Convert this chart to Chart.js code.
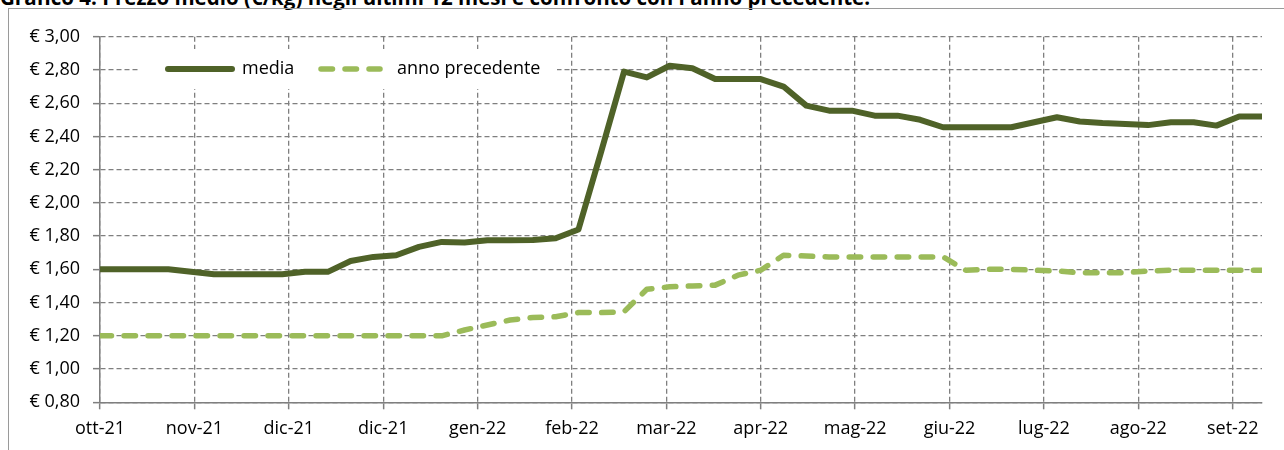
<!DOCTYPE html>
<html>
<head>
<meta charset="utf-8">
<script src="https://cdn.jsdelivr.net/npm/chart.js@4.4.1/dist/chart.umd.min.js"></script>
<style>
  html, body { margin: 0; padding: 0; background: #fff; }
  #wrap { position: relative; width: 1284px; height: 450px; overflow: hidden; }
  #title { position: absolute; left: 0; top: -12.8px; font-family: "Open Sans", sans-serif; font-weight: 700; font-size: 20.5px; line-height: 20px; white-space: nowrap; color: #000; }
  #box { position: absolute; left: 8px; top: 8px; width: 1400px; height: 600px; border: 1px solid #9a9a9a; box-sizing: border-box; }
  #c { position: absolute; left: 0; top: 0; }
</style>
</head>
<body>
<div id="wrap">
  <div id="title">Grafico 4. Prezzo medio  (€/kg) negli ultimi 12 mesi e confronto con l'anno precedente.</div>
  <div id="box"></div>
  <canvas id="c" width="1284" height="450"></canvas>
</div>
<script>
// ---- data (weekly observations) ----
const weekDates = [
  '2021-10-04','2021-10-11','2021-10-18','2021-10-25','2021-11-01','2021-11-08','2021-11-15','2021-11-22',
  '2021-11-29','2021-12-06','2021-12-13','2021-12-20','2021-12-27','2022-01-03','2022-01-10','2022-01-17',
  '2022-01-24','2022-01-31','2022-02-07','2022-02-14','2022-02-21','2022-02-28','2022-03-07','2022-03-14',
  '2022-03-21','2022-03-28','2022-04-04','2022-04-11','2022-04-18','2022-04-25','2022-05-02','2022-05-09',
  '2022-05-16','2022-05-23','2022-05-30','2022-06-06','2022-06-13','2022-06-20','2022-06-27','2022-07-04',
  '2022-07-11','2022-07-18','2022-07-25','2022-08-01','2022-08-08','2022-08-15','2022-08-22','2022-08-29',
  '2022-09-05','2022-09-12','2022-09-19','2022-09-26'
];
const media = [
  1.60,1.60,1.60,1.60,1.585,1.57,1.57,1.57,1.57,1.585,1.585,1.65,1.675,1.685,1.735,1.765,
  1.762,1.775,1.775,1.777,1.787,1.84,2.31,2.79,2.755,2.825,2.81,2.745,2.745,2.745,2.70,2.585,
  2.555,2.555,2.525,2.525,2.50,2.455,2.455,2.455,2.455,2.485,2.515,2.49,2.48,2.475,2.468,2.485,
  2.485,2.465,2.52,2.52
];
const annoPrecedente = [
  1.20,1.20,1.20,1.20,1.20,1.20,1.20,1.20,1.20,1.20,1.20,1.20,1.20,1.20,1.20,1.20,
  1.235,1.265,1.295,1.31,1.315,1.34,1.34,1.345,1.48,1.495,1.50,1.505,1.565,1.595,1.685,1.68,
  1.675,1.675,1.675,1.675,1.675,1.675,1.595,1.60,1.60,1.595,1.59,1.58,1.58,1.58,1.59,1.595,
  1.595,1.595,1.595,1.595
];
const tickLabels = ['ott-21','nov-21','dic-21','dic-21','gen-22','feb-22','mar-22','apr-22','mag-22','giu-22','lug-22','ago-22','set-22'];
const seriesNames = ['media', 'anno precedente'];
const majorUnitDays = 29;

// ---- build ----
const DAY = 86400000;
const t0 = Date.parse(weekDates[0] + 'T00:00:00Z');
const dayOffsets = weekDates.map(d => Math.round((Date.parse(d + 'T00:00:00Z') - t0) / DAY));
const toPoints = vals => vals.map((v, i) => ({ x: dayOffsets[i], y: v }));

const C_MEDIA = '#4f6228';
const C_PREC = '#9bbb59';
const GRID = '#7f7f7f';
const FONT = { family: '"Open Sans", sans-serif', size: 18 };
const DASH = [11.5, 12.5];
const GRID_DASH = [5, 3];

const legendPlugin = {
  id: 'insideLegend',
  afterDatasetsDraw(chart) {
    const ctx = chart.ctx;
    ctx.save();
    ctx.fillStyle = '#fff';
    ctx.fillRect(138, 49, 419, 40);
    const y = 69;
    ctx.lineCap = 'round';
    ctx.lineWidth = 6;
    ctx.strokeStyle = C_MEDIA;
    ctx.setLineDash([]);
    ctx.beginPath(); ctx.moveTo(168, y); ctx.lineTo(232, y); ctx.stroke();
    ctx.strokeStyle = C_PREC;
    ctx.lineWidth = 5.5;
    ctx.setLineDash(DASH);
    ctx.beginPath(); ctx.moveTo(321, y); ctx.lineTo(380, y); ctx.stroke();
    ctx.setLineDash([]);
    ctx.fillStyle = '#000';
    ctx.font = '18px "Open Sans", sans-serif';
    ctx.textBaseline = 'middle';
    ctx.textAlign = 'left';
    ctx.fillText(seriesNames[0], 242, y);
    ctx.fillText(seriesNames[1], 397, y);
    ctx.restore();
  }
};

const gridOpts = { color: GRID, lineWidth: 1.3, tickLength: 7, tickBorderDash: [], tickColor: GRID, tickWidth: 1.5 };
const borderOpts = { display: true, color: GRID, width: 1.5, dash: GRID_DASH };

new Chart(document.getElementById('c'), {
  type: 'line',
  data: {
    datasets: [
      { label: seriesNames[0], data: toPoints(media), borderColor: C_MEDIA, backgroundColor: C_MEDIA,
        borderWidth: 6, pointRadius: 0, tension: 0, borderJoinStyle: 'round', borderCapStyle: 'butt' },
      { label: seriesNames[1], data: toPoints(annoPrecedente), borderColor: C_PREC, backgroundColor: C_PREC,
        borderWidth: 5.5, borderDash: DASH, borderCapStyle: 'round', borderJoinStyle: 'round', pointRadius: 0, tension: 0 }
    ]
  },
  options: {
    responsive: false,
    devicePixelRatio: 1,
    animation: false,
    layout: { padding: { left: 0, right: 22, top: 36.7, bottom: 0 } },
    plugins: { legend: { display: false }, tooltip: { enabled: false }, title: { display: false } },
    scales: {
      x: {
        type: 'linear',
        min: 0,
        max: dayOffsets[dayOffsets.length - 1],
        afterBuildTicks(scale) {
          scale.ticks = tickLabels.map((_, i) => ({ value: i * majorUnitDays }));
        },
        afterFit(scale) { scale.height = 450 - 402.3; },
        ticks: {
          autoSkip: false, maxRotation: 0, font: FONT, color: '#000', padding: 9,
          callback(value) { return tickLabels[Math.round(value / majorUnitDays)]; }
        },
        grid: gridOpts,
        border: borderOpts
      },
      y: {
        min: 0.8, max: 3.0,
        afterFit(scale) { scale.width = 100; },
        ticks: {
          stepSize: 0.2, font: FONT, color: '#000', padding: 13,
          callback(value) { return '€ ' + value.toFixed(2).replace('.', ','); }
        },
        grid: gridOpts,
        border: borderOpts
      }
    }
  },
  plugins: [legendPlugin]
});
</script>
</body>
</html>
